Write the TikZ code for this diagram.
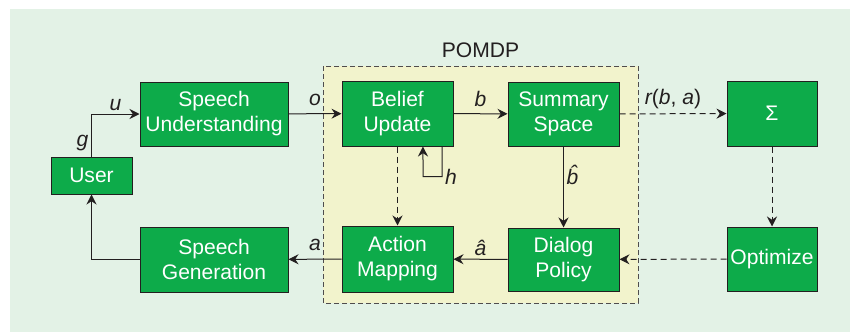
\documentclass[tikz,border=0pt]{standalone}
\usepackage{fontspec}
\setmainfont{Liberation Sans}
\usetikzlibrary{arrows.meta}

\definecolor{boxgreen}{RGB}{13,171,74}
\definecolor{bggreen}{RGB}{227,242,230}
\definecolor{pomdpyellow}{RGB}{242,243,204}
\definecolor{linegray}{RGB}{35,31,32}

\begin{document}
\begin{tikzpicture}[x=0.75pt, y=-0.75pt,
    block/.style={draw=linegray, line width=0.75pt, fill=boxgreen, text=white, align=center,
        inner sep=0pt, font=\fontsize{15.8}{18.8}\selectfont},
    lab/.style={text=linegray, inner sep=2pt, font=\fontsize{15.8}{18.8}\selectfont\itshape},
    flow/.style={draw=linegray, line width=0.75pt, -{Stealth[length=7.5pt, width=7.5pt, inset=2.5pt]}},
    dflow/.style={flow, dash pattern=on 4.5pt off 3pt}]
    \useasboundingbox (0,0) rectangle (850,332);

    % Sfondo
    \fill[bggreen] (10,9) rectangle (850,332);
    \draw[fill=pomdpyellow, draw=linegray!80, line width=0.75pt, dash pattern=on 3.5pt off 2.5pt]
        (323,66) rectangle (638,303);
    \node (pomdplab) [anchor=base, inner sep=0pt, text=linegray,
        font=\fontsize{15.8}{18.8}\selectfont] at (480.5,57) {POMDP};

    % Blocchi
    \node (user)  [block, minimum width=60.75pt, minimum height=27.75pt] at (91.5,175.5) {User};
    \node (su)    [block, minimum width=111pt, minimum height=48pt] at (214,114) {Speech\\Understanding};
    \node (sg)    [block, minimum width=111pt, minimum height=48.75pt] at (214,259.5) {Speech\\Generation};
    \node (bu)    [block, minimum width=83.25pt, minimum height=48.75pt] at (397.5,113.5) {Belief\\Update};
    \node (am)    [block, minimum width=83.25pt, minimum height=49.5pt] at (397.5,259) {Action\\Mapping};
    \node (ss)    [block, minimum width=83.25pt, minimum height=48pt] at (563.5,114) {Summary\\Space};
    \node (dp)    [block, minimum width=83.25pt, minimum height=47.25pt] at (563.5,259.5) {Dialog\\Policy};
    \node (sigma) [block, minimum width=67.5pt, minimum height=48.75pt] at (772,113.5) {Σ};
    \node (opt)   [block, minimum width=67.5pt, minimum height=48pt] at (772,259) {Optimize};

    % Frecce
    \draw[flow] (user.north) |- (su.west)
        node[lab, pos=0.16, left] {g} node[lab, pos=0.75, above] {u};
    \draw[flow] (su) -- (bu) node[lab, midway, above=4pt] {o};
    \draw[flow] (bu) -- (ss) node[lab, midway, above=3pt] {b};
    \draw[dflow] (ss) -- (sigma) node[lab, midway, above=1pt] {r\upshape(\itshape b\upshape, \itshape a\upshape)};
    \draw[dflow] (sigma) -- (opt);
    \draw[dflow] (opt) -- (dp);
    \draw[flow] (ss) -- (dp) node[lab, pos=0.35, right] {\^{b}};
    \draw[flow] (dp) -- (am) node[lab, midway, above] {\^{a}};
    \draw[flow] (am) -- (sg) node[lab, midway, above=4pt] {a};
    \draw[flow] (sg.west) -| (user.south);
    \draw[dflow] (bu) -- (am);
    \draw[flow] ([xshift=33.4pt]bu.south) -- ++(0,30) node[lab, right] {h}
        -- ++(-19,0) -- ([xshift=19.1pt]bu.south);
\end{tikzpicture}
\end{document}
